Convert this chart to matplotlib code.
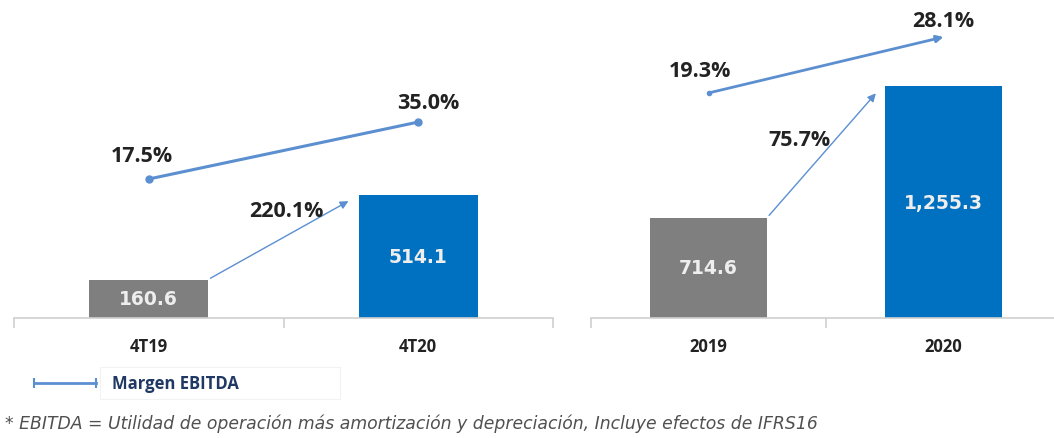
import matplotlib
matplotlib.use("Agg")
import matplotlib.pyplot as plt
from matplotlib.lines import Line2D

# Data
q_categories = ["4T19", "4T20"]
q_ebitda = [160.6, 514.1]
q_margin = [17.5, 35.0]
q_growth = "220.1%"

y_categories = ["2019", "2020"]
y_ebitda = [714.6, 1255.3]
y_margin = [19.3, 28.1]
y_growth = "75.7%"

bar_colors = ["#7F7F7F", "#0070C0"]
line_color = "#5B8FD0"
W, H = 1054, 439
fig = plt.figure(figsize=(W / 100, H / 100), dpi=100)

LBL_FONT = "Open Sans"
PCT_SIZE = 15.5

def panel(rect, cats, vals, margins, growth, ylim, ylim2, bar_w, val_fmt, arrow_end_line, growth_xy):
    ax = fig.add_axes(rect)
    x = list(range(len(cats)))
    ax.bar(x, vals, width=bar_w, color=bar_colors, zorder=2)
    ax.set_xlim(-0.5, 1.5)
    ax.set_ylim(*ylim)
    for s in ["top", "right", "left"]:
        ax.spines[s].set_visible(False)
    ax.spines["bottom"].set_color("#D0D0D0")
    ax.spines["bottom"].set_linewidth(1.2)
    ax.set_yticks([])
    ax.set_xticks(x)
    ax.set_xticklabels(cats, fontsize=12, fontweight="bold", family=LBL_FONT, color="#222222")
    ax.tick_params(axis="x", which="major", length=0, pad=14)
    ax.set_xticks([-0.5, 0.5, 1.5], minor=True)
    ax.tick_params(axis="x", which="minor", length=7, color="#D0D0D0", width=1.2)
    for xi, v in zip(x, vals):
        base = ylim[0]
        ax.text(xi, (base + v) / 2, val_fmt(v), ha="center", va="center", color="#EEEEEE",
                fontsize=13.5, fontweight="bold", family="DejaVu Sans", zorder=3)
    # growth arrow
    ax.annotate("", xy=(1 - bar_w / 2 - 0.03, vals[1] - (ylim[1] - ylim[0]) * 0.015),
                xytext=(0 + bar_w / 2, vals[0]),
                arrowprops=dict(arrowstyle="-|>", color=line_color, lw=1.0, mutation_scale=12),
                zorder=3)
    ax.text(growth_xy[0], growth_xy[1], growth, transform=ax.transData, ha="right", va="center",
            fontsize=PCT_SIZE, fontweight="bold", family=LBL_FONT, color="#222222")
    ax2 = ax.twinx()
    ax2.set_ylim(*ylim2)
    ax2.set_axis_off()
    if arrow_end_line:
        ax2.annotate("", xy=(x[1], margins[1]), xytext=(x[0], margins[0]),
                     arrowprops=dict(arrowstyle="-|>", color=line_color, lw=2.0, mutation_scale=10,
                                     shrinkA=0, shrinkB=0))
        ax2.plot([x[0]], [margins[0]], marker="o", ms=3, color=line_color)
    else:
        ax2.plot(x, margins, color=line_color, lw=2.2, marker="o", ms=5)
    return ax, ax2

ax, ax2 = panel([14 / W, 120 / H, 539 / W, 319 / H], q_categories, q_ebitda, q_margin, q_growth,
                (0, 1333), (-25.2, 72.8), 0.44, lambda v: f"{v:,.1f}", False, (0.65, 450))
# label offsets in pixels (dx, dy)
for xi, m, (dx, dy) in zip([0, 1], q_margin, [(-7, 24), (10, 20)]):
    ax2.annotate(f"{m:.1f}%", (xi, m), xytext=(dx * 0.72, dy * 0.72), textcoords="offset points",
                 ha="center", va="center", fontsize=PCT_SIZE, fontweight="bold", family=LBL_FONT, color="#222222")

bx, bx2 = panel([591 / W, 120 / H, 470 / W, 319 / H], y_categories, y_ebitda, y_margin, y_growth,
                (300, 1616), (-16.06, 34.07), 0.5, lambda v: f"{v:,.1f}", True, (0.52, 1035))
for xi, m, (dx, dy) in zip([0, 1], y_margin, [(-9, 22), (0, 16)]):
    bx2.annotate(f"{m:.1f}%", (xi, m), xytext=(dx * 0.72, dy * 0.72), textcoords="offset points",
                 ha="center", va="center", fontsize=PCT_SIZE, fontweight="bold", family=LBL_FONT, color="#222222")

# Legend
leg_y = 1 - 384 / H
fig.add_artist(Line2D([34 / W, 96 / W], [leg_y, leg_y], color=line_color, lw=2,
                      marker="|", markevery=[0, 1], ms=7, mew=1.5))
fig.add_artist(plt.Rectangle((100 / W, 1 - 400 / H), 240 / W, 32 / H, fill=False,
                             edgecolor="#F2F2F2", lw=0.8))
fig.text(112 / W, leg_y, "Margen EBITDA", ha="left", va="center", fontsize=12,
         fontweight="bold", family=LBL_FONT, color="#1F3864")

# Footnote
fig.text(5 / W, 1 - 424 / H,
         "* EBITDA = Utilidad de operación más amortización y depreciación, Incluye efectos de IFRS16",
         ha="left", va="center", fontsize=12.4, style="italic", family="DejaVu Sans", color="#505050")

fig.savefig("out.png", dpi=100)
